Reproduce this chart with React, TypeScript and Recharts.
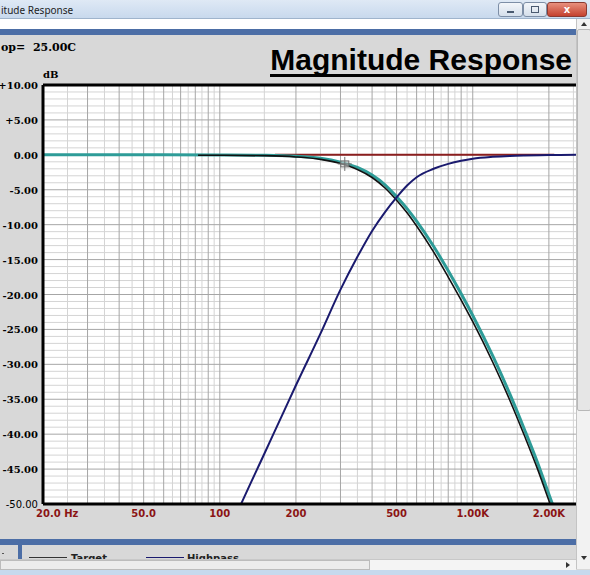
import React from 'react';
import {
  LineChart,
  Line,
  XAxis,
  YAxis,
  CartesianGrid,
  ReferenceLine,
  ReferenceDot,
} from 'recharts';

// frequency ticks (Hz) and their labels
const hzTicks = [20, 50, 100, 200, 500, 1000, 2000];
const hzLabels = ['20.0 Hz', '50.0', '100', '200', '500', '1.00K', '2.00K'];

// dB ticks and labels
const dbTicks = [10, 5, 0, -5, -10, -15, -20, -25, -30, -35, -40, -45, -50];
const dbLabels = ['+10.00', '+5.00', '0.00', '-5.00', '-10.00', '-15.00', '-20.00', '-25.00', '-30.00', '-35.00', '-40.00', '-45.00', '-50.00'];

// grid lines
const majorHz = [20, 30, 40, 50, 60, 70, 80, 90, 100, 200, 300, 400, 500, 600, 700, 800, 900, 1000, 2000];
const minorHz = [25, 35, 45, 55, 65, 75, 85, 95, 150, 250, 350, 450, 550, 650, 750, 850, 950, 1500, 2500];
const majorDb = [5, 0, -5, -10, -15, -20, -25, -30, -35, -40, -45];
const minorDb = [9, 8, 7, 6, 4, 3, 2, 1, -1, -2, -3, -4, -6, -7, -8, -9, -11, -12, -13, -14, -16, -17, -18, -19, -21, -22, -23, -24, -26, -27, -28, -29, -31, -32, -33, -34, -36, -37, -38, -39, -41, -42, -43, -44, -46, -47, -48, -49];

// lowpass, measured (teal)
const lpFreq = [20, 60, 100, 150, 200, 250, 300, 350, 400, 450, 500, 550, 600, 700, 800, 900, 1000, 1200, 1400, 1600, 1800, 2000, 2200, 2560];
const lpDb = [0, 0, -0.02, -0.07, -0.2, -0.5, -1.05, -1.8, -2.9, -4.3, -6.0, -7.7, -9.5, -13.1, -16.6, -19.9, -23.0, -28.8, -34.2, -39.3, -44.0, -48.6, -52.8, -61];

// lowpass target (black)
const lpTargetFreq = [82, 100, 150, 200, 250, 300, 350, 400, 450, 500, 550, 600, 700, 800, 900, 1000, 1200, 1400, 1600, 1800, 2000, 2200];
const lpTargetDb = [-0.05, -0.06, -0.12, -0.3, -0.65, -1.25, -2.1, -3.25, -4.75, -6.5, -8.3, -10.2, -13.9, -17.5, -20.8, -23.9, -29.7, -35.1, -40.2, -44.9, -49.5, -53.7];

// highpass (navy)
const hpFreq = [100, 120, 150, 180, 200, 250, 300, 350, 400, 450, 500, 550, 600, 700, 800, 900, 1000, 1200, 1400, 1600, 2000, 2560];
const hpDb = [-57, -50.4, -42.8, -36.6, -33.0, -25.6, -19.3, -14.6, -10.9, -8.2, -6.1, -4.4, -3.2, -2.0, -1.3, -0.85, -0.55, -0.28, -0.15, -0.09, -0.04, 0];

// flat target (red)
const flatFreq = [165, 500, 1000, 2100];
const flatDb = [0, 0, 0, 0];

// cursor marker
const cursorHz = 312;
const cursorDb = -1.3;

const toRows = (f: number[], d: number[]) => f.map((v, i) => ({ f: v, db: d[i] }));

const lpData = toRows(lpFreq, lpDb);
const lpTargetData = toRows(lpTargetFreq, lpTargetDb);
const hpData = toRows(hpFreq, hpDb);
const flatData = toRows(flatFreq, flatDb);

const XTick = (props: any) => {
  const { x, payload, index } = props;
  const first = index === 0;
  return (
    <text
      x={first ? x - 7 : x}
      y={517}
      textAnchor={first ? 'start' : 'middle'}
      fill="#8b1414"
      fontFamily="DejaVu Sans"
      fontWeight="bold"
      fontSize={10}
    >
      {hzLabels[hzTicks.indexOf(payload.value)]}
    </text>
  );
};

const YTick = (props: any) => {
  const { y, payload } = props;
  const last = payload.value === -50;
  return (
    <text
      x={38}
      y={y}
      dy={4}
      textAnchor="end"
      fill="#000"
      fontFamily={last ? 'DejaVu Sans' : 'DejaVu Serif'}
      fontWeight={last ? 'normal' : 'bold'}
      fontSize={10}
    >
      {dbLabels[dbTicks.indexOf(payload.value)]}
    </text>
  );
};

const Cursor = (props: any) => {
  const { cx, cy } = props;
  return (
    <g stroke="#6e6e6e" fill="none" strokeWidth={1}>
      <rect x={cx - 4} y={cy - 3} width={8} height={6} fill="#d0d0d0" fillOpacity={0.6} />
      <line x1={cx} y1={cy - 7} x2={cx} y2={cy + 7} />
      <line x1={cx - 7} y1={cy} x2={cx + 7} y2={cy} />
    </g>
  );
};

const abs = (s: React.CSSProperties): React.CSSProperties => ({ position: 'absolute', ...s });

export default function App() {
  return (
    <div style={abs({ left: 0, top: 0, width: 590, height: 575, overflow: 'hidden', background: '#d8d8d8' })}>
      {/* window title bar */}
      <div style={abs({ left: 0, top: 0, width: 590, height: 18, background: 'linear-gradient(#dfe9f5, #c8d9ed)', borderBottom: '1px solid #9fb4cc' })}>
        <div style={abs({ left: 1, top: 3, fontFamily: 'Noto Sans', fontSize: 10, color: '#1e1e1e', whiteSpace: 'nowrap' })}>
          itude Response
        </div>
        <div style={abs({ left: 498, top: 2, width: 23, height: 13, borderRadius: 3, border: '1px solid #7d8ea6', background: 'linear-gradient(#f3f6fa, #d5dfeb)' })}>
          <div style={abs({ left: 8, top: 8, width: 7, height: 2, background: '#4a5a70' })} />
        </div>
        <div style={abs({ left: 523, top: 2, width: 22, height: 13, borderRadius: 3, border: '1px solid #7d8ea6', background: 'linear-gradient(#f3f6fa, #d5dfeb)' })}>
          <div style={abs({ left: 7, top: 3, width: 6, height: 5, border: '1px solid #4a5a70' })} />
        </div>
        <div style={abs({ left: 547, top: 2, width: 38, height: 13, borderRadius: 3, border: '1px solid #8a3a32', background: 'linear-gradient(#e8907e, #c4412f)', color: '#fff', fontFamily: 'DejaVu Sans', fontWeight: 'bold', fontSize: 10, lineHeight: '13px', textAlign: 'center' })}>
          x
        </div>
      </div>
      {/* white strip and blue band */}
      <div style={abs({ left: 0, top: 19, width: 576, height: 10, background: '#ffffff' })} />
      <div style={abs({ left: 0, top: 29, width: 576, height: 6, background: '#4c6ea6' })} />

      {/* right scroll bar */}
      <div style={abs({ left: 576, top: 19, width: 14, height: 550, background: '#f2f2f2', borderLeft: '1px solid #c4c4c4' })}>
        <div style={abs({ left: 4, top: 3, width: 0, height: 0, borderLeft: '3px solid transparent', borderRight: '3px solid transparent', borderBottom: '4px solid #333' })} />
        <div style={abs({ left: 0, top: 10, width: 12, height: 380, background: '#e6e6e6', border: '1px solid #b8b8b8', borderRadius: 2 })} />
        <div style={abs({ left: 4, top: 537, width: 0, height: 0, borderLeft: '3px solid transparent', borderRight: '3px solid transparent', borderTop: '4px solid #333' })} />
      </div>

      <div style={abs({ left: 1, top: 41, fontFamily: 'DejaVu Serif', fontWeight: 'bold', fontSize: 11, color: '#000', whiteSpace: 'pre' })}>
        {'op=  25.00C'}
      </div>
      <div style={abs({ right: 18, top: 45, fontFamily: 'Liberation Sans', fontWeight: 'bold', fontSize: 30, lineHeight: '29px', color: '#000', borderBottom: '3px solid #000', whiteSpace: 'nowrap' })}>
        Magnitude Response
      </div>
      <div style={abs({ left: 43, top: 69, fontFamily: 'DejaVu Serif', fontWeight: 'bold', fontSize: 10, color: '#000' })}>
        dB
      </div>

      <div style={abs({ left: 0, top: 0 })}>
        <LineChart width={590} height={575} margin={{ top: 85, right: 14, bottom: 41, left: 0 }}>
          <CartesianGrid fill="#ffffff" stroke="#d4d4d4" strokeWidth={1} horizontalValues={minorDb} verticalValues={minorHz} />
          <CartesianGrid fill="none" stroke="#a6a6a6" strokeWidth={1} horizontalValues={majorDb} verticalValues={majorHz} />
          <XAxis
            type="number"
            dataKey="f"
            scale="log"
            domain={[20, 2560]}
            allowDataOverflow
            ticks={hzTicks}
            interval={0}
            tick={<XTick />}
            tickLine={false}
            axisLine={{ stroke: '#000', strokeWidth: 3 }}
            height={30}
          />
          <YAxis
            type="number"
            domain={[-50, 10]}
            allowDataOverflow
            ticks={dbTicks}
            interval={0}
            tick={<YTick />}
            tickLine={false}
            axisLine={{ stroke: '#000', strokeWidth: 3 }}
            width={43}
          />
          <ReferenceLine y={10} stroke="#000" strokeWidth={3} />
          <Line data={flatData} dataKey="db" type="linear" stroke="#8b1e1e" strokeWidth={2} dot={false} isAnimationActive={false} />
          <Line data={lpData} dataKey="db" type="monotone" stroke="#2e9c98" strokeWidth={3} dot={false} isAnimationActive={false} />
          <Line data={lpTargetData} dataKey="db" type="monotone" stroke="#111111" strokeWidth={1.6} dot={false} isAnimationActive={false} />
          <Line data={hpData} dataKey="db" type="monotone" stroke="#1a1a6e" strokeWidth={2} dot={false} isAnimationActive={false} />
          <ReferenceDot x={cursorHz} y={cursorDb} shape={<Cursor />} />
        </LineChart>
      </div>

      {/* lower bands */}
      <div style={abs({ left: 0, top: 539, width: 576, height: 6, background: '#4c6ea6' })} />
      <div style={abs({ left: 0, top: 545, width: 576, height: 14, overflow: 'hidden' })}>
        <div style={abs({ left: 2, top: 8, width: 2, height: 1, background: '#555' })} />
        <div style={abs({ left: 18, top: 0, width: 4, height: 14, background: '#4c6ea6' })} />
        <div style={abs({ left: 29, top: 12, width: 38, height: 1, background: '#333' })} />
        <div style={abs({ left: 71, top: 8, fontFamily: 'DejaVu Sans', fontWeight: 'bold', fontSize: 10, color: '#222' })}>Target</div>
        <div style={abs({ left: 146, top: 12, width: 38, height: 1, background: '#1a1a6e' })} />
        <div style={abs({ left: 187, top: 8, fontFamily: 'DejaVu Sans', fontWeight: 'bold', fontSize: 10, color: '#222' })}>Highpass</div>
      </div>
      {/* horizontal scroll bar */}
      <div style={abs({ left: 0, top: 559, width: 576, height: 10, background: '#f4f4f4', borderTop: '1px solid #c8c8c8' })}>
        <div style={abs({ left: 0, top: 0, width: 368, height: 8, background: '#ececec', border: '1px solid #bcbcbc' })} />
        <div style={abs({ left: 566, top: 2, width: 0, height: 0, borderTop: '3px solid transparent', borderBottom: '3px solid transparent', borderLeft: '4px solid #333' })} />
      </div>
      <div style={abs({ left: 0, top: 570, width: 590, height: 5, background: '#c6d9ed' })} />
    </div>
  );
}
